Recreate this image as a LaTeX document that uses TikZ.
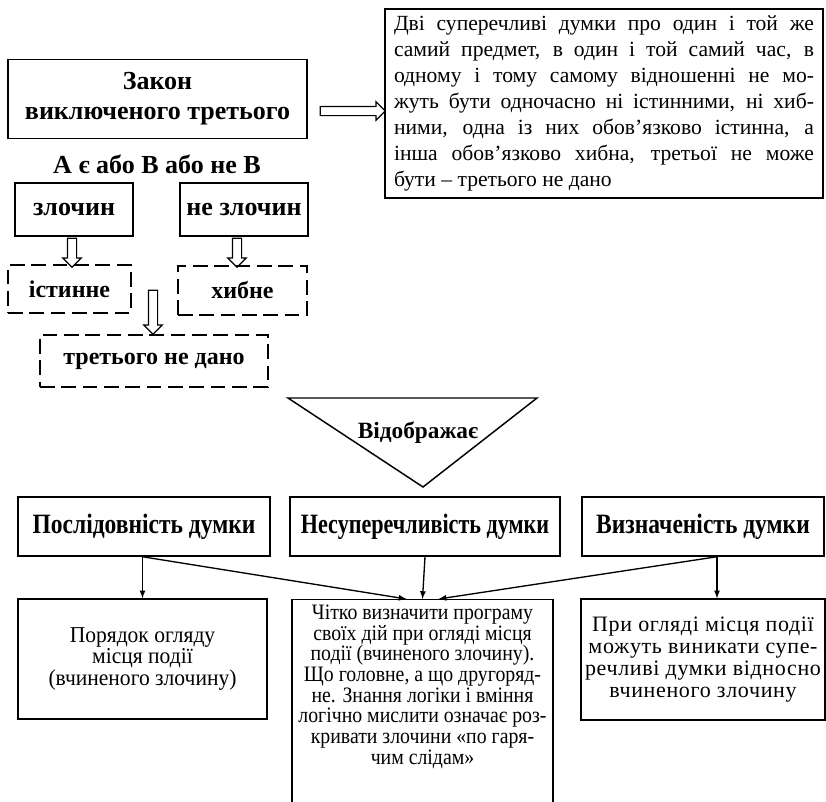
\documentclass[tikz,border=0pt]{standalone}
\usepackage{fontspec}
\setmainfont{Liberation Serif}
\newfontfamily\narrowfont[FakeStretch=0.9]{Liberation Serif}
\newfontfamily\headfont[FakeStretch=0.84]{Liberation Serif}
\newfontfamily\tightfont[FakeStretch=0.79]{Liberation Serif}
\newfontfamily\slimfont[FakeStretch=0.95]{Liberation Serif}
\newfontfamily\widefont[LetterSpace=3.0]{Liberation Serif}
\usetikzlibrary{calc,positioning,shapes.arrows}

\begin{document}
\begin{tikzpicture}[x=0.75pt,y=-0.75pt,
	box/.style={draw,line width=1.1pt,inner sep=0pt,align=center},
	dbox/.style={draw,line width=1.1pt,dash pattern=on 11pt off 5pt,inner sep=0pt,align=center},
	hollow/.style={single arrow,draw,line width=0.9pt,inner sep=3pt,minimum width=0pt,single arrow head extend=3.5pt},
	link/.style={-latex,line width=1pt},
	bfont/.style={font=\fontsize{19.5}{22.5}\selectfont\bfseries},
	dfont/.style={font=\fontsize{18}{21}\selectfont\bfseries},
	hfont/.style={font=\fontsize{21}{24}\headfont\bfseries}]
	\useasboundingbox (0,0) rectangle (826,801);
	\node[box,minimum width=328.5pt,minimum height=141.75pt,text width=315pt,align=justify,font=\fontsize{16.2}{19.6}\selectfont] (dvi) at (604,103.5) {Дві суперечливі думки про один і той же\linebreak самий предмет, в один і той самий час, в\linebreak одному і тому самому відношенні не мо-\linebreak жуть бути одночасно ні істинними, ні хиб-\linebreak ними, одна із них обов’язково істинна, а\linebreak інша обов’язково хибна, третьої не може\linebreak бути – третього не дано};
	\node[box,bfont,minimum width=224.25pt,minimum height=59pt] (zakon) at (157.5,99) {Закон\\виключеного третього};
	\node[hollow,minimum height=48.75pt] (ar0) at (350.5,111) {};
	\node[bfont] (formula) at (157,164) {А є або В або не В};
	\node[box,bfont,minimum width=88.5pt,minimum height=39.75pt] (zl) at (74,209.5) {злочин};
	\node[box,bfont,minimum width=96pt,minimum height=39.75pt] (nezl) at (244,209.5) {не злочин};
	\node[dbox,dfont,minimum width=92.25pt,minimum height=36pt] (ist) at (69.5,289) {істинне};
	\node[dbox,dfont,minimum width=96.75pt,minimum height=36.75pt] (khyb) at (242.5,290.5) {хибне};
	\node[dbox,dfont,minimum width=171pt,minimum height=39pt] (tret) at (154,361) {третього не дано};
	\node[hollow,shape border rotate=270,minimum height=21.75pt] (ar1) at (72,250.5) {};
	\node[hollow,shape border rotate=270,minimum height=21.75pt] (ar2) at (237,250.5) {};
	\node[hollow,shape border rotate=270,minimum height=33pt] (ar3) at (153,310) {};
	\draw[line width=1.1pt] (288,398) -- (537,398) -- (423,487) -- cycle;
	\node[font=\fontsize{17.5}{20}\selectfont\bfseries] (vidobr) at (418,433) {Відображає};
	\node[box,hfont,minimum width=189pt,minimum height=44.25pt] (posl) at (144,526.5) {Послідовність думки};
	\node[box,hfont,font=\fontsize{21}{24}\tightfont\bfseries,minimum width=202.5pt,minimum height=44.25pt] (nesup) at (425,526.5) {Несуперечливість думки};
	\node[box,hfont,minimum width=181.5pt,minimum height=44.25pt] (vyzn) at (703,526.5) {Визначеність думки};
	\node[box,minimum width=186.75pt,minimum height=90pt,font=\fontsize{17}{16}\slimfont] (poryad) at (142.5,659) {Порядок огляду\\місця події\\(вчиненого злочину)};
	\node[box,anchor=north,minimum width=195.75pt,minimum height=180pt] (chitko) at (422.5,599) {};
	\node[below=1pt of chitko.north,align=center,font=\fontsize{16.5}{15.5}\narrowfont] (chitkotxt) {Чітко визначити програму\\своїх дій при огляді місця\\події (вчиненого злочину).\\Що головне, а що другоряд-\\не. Знання логіки і вміння\\логічно мислити означає роз-\\кривати злочини «по гаря-\\чим слідам»};
	\node[box,minimum width=183pt,minimum height=90.75pt,font=\fontsize{16.5}{16.7}\widefont] (pry) at (703,659.5) {При огляді місця події\\можуть виникати супе-\\речливі думки відносно\\вчиненого злочину};
	\draw[link] (posl.south -| poryad.north) -- (poryad.north);
	\draw[link] (posl.south -| poryad.north) -- ($(chitko.north)+(-16,0)$);
	\draw[link] (nesup.south) -- (chitko.north);
	\draw[link] ($(vyzn.south)+(14,0)$) -- ($(chitko.north)+(16,0)$);
	\draw[link] ($(vyzn.south)+(14,0)$) -- (pry.north -| {$(vyzn.south)+(14,0)$});
\end{tikzpicture}
\end{document}
